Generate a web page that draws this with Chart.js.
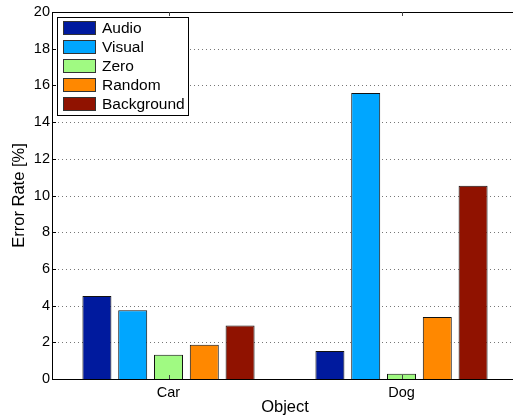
<!DOCTYPE html>
<html>
<head>
<meta charset="utf-8">
<script src="https://cdn.jsdelivr.net/npm/chart.js@4/dist/chart.umd.min.js"></script>
<style>
html,body{margin:0;padding:0;overflow:hidden;background:#fff;}
#wrap{width:513px;height:420px;overflow:hidden;position:relative;}
#c{position:absolute;left:0;top:0;}
</style>
</head>
<body>
<div id="wrap"><canvas id="c" width="518" height="420"></canvas></div>
<script>
const categories = ["Car", "Dog"];
const seriesNames = ["Audio", "Visual", "Zero", "Random", "Background"];
const audio = [4.52, 1.53];
const visual = [3.74, 15.58];
const zero = [1.32, 0.29];
const random = [1.87, 3.38];
const background = [2.92, 10.53];
const yTicks = [0, 2, 4, 6, 8, 10, 12, 14, 16, 18, 20];
const seriesColors = ["#001a9e", "#00a6ff", "#a0fa82", "#ff8800", "#901200"];

const FONT = "'Liberation Sans', Arial, Helvetica, sans-serif";
const seriesValues = [audio, visual, zero, random, background];

const dotGrid = {
  id: 'dotGrid',
  beforeDatasetsDraw(chart) {
    const ctx = chart.ctx;
    const a = chart.chartArea;
    const ys = chart.scales.y;
    ctx.save();
    ctx.strokeStyle = '#777';
    ctx.lineWidth = 1;
    ctx.setLineDash([1, 3]);
    yTicks.forEach(v => {
      if (v === yTicks[0] || v === yTicks[yTicks.length - 1]) return;
      const y = Math.round(ys.getPixelForValue(v)) + 0.5;
      ctx.beginPath();
      ctx.moveTo(a.left + 2, y);
      ctx.lineTo(a.right, y);
      ctx.stroke();
    });
    ctx.restore();
  }
};

const frame = {
  id: 'frame',
  afterDraw(chart) {
    const ctx = chart.ctx;
    const a = chart.chartArea;
    const xs = chart.scales.x, ys = chart.scales.y;
    ctx.save();
    ctx.strokeStyle = '#000';
    ctx.lineWidth = 1;
    ctx.beginPath();
    ctx.moveTo(a.left, Math.round(a.top) + 0.5);
    ctx.lineTo(a.right, Math.round(a.top) + 0.5);
    ctx.moveTo(a.left, Math.round(a.bottom) + 0.5);
    ctx.lineTo(a.right, Math.round(a.bottom) + 0.5);
    ctx.stroke();
    ctx.strokeStyle = '#444';
    categories.forEach((c, i) => {
      const x = Math.round(xs.getPixelForTick(i)) + 0.5;
      ctx.beginPath();
      ctx.moveTo(x, a.top); ctx.lineTo(x, a.top + 4);
      ctx.moveTo(x, a.bottom); ctx.lineTo(x, a.bottom - 4);
      ctx.stroke();
    });
    ctx.strokeStyle = '#000';
    yTicks.forEach(v => {
      const y = Math.round(ys.getPixelForValue(v)) + 0.5;
      ctx.beginPath();
      ctx.moveTo(a.left, y); ctx.lineTo(a.left + 4, y);
      ctx.stroke();
    });
    const lx = 57.5, ly = 17.5, lw = 131, lh = 98;
    ctx.fillStyle = '#fff';
    ctx.fillRect(lx, ly, lw, lh);
    ctx.strokeStyle = '#000';
    ctx.strokeRect(lx, ly, lw, lh);
    ctx.font = '15.5px ' + FONT;
    ctx.textBaseline = 'middle';
    ctx.textAlign = 'left';
    chart.data.datasets.forEach((ds, i) => {
      const cy = 27.5 + i * 19;
      ctx.fillStyle = ds.backgroundColor;
      ctx.fillRect(63.5, Math.round(cy - 6.5) + 0.5, 32, 13);
      ctx.strokeStyle = '#333';
      ctx.strokeRect(63.5, Math.round(cy - 6.5) + 0.5, 32, 13);
      ctx.fillStyle = '#000';
      ctx.fillText(ds.label, 102, cy + 1);
    });
    ctx.restore();
  }
};

new Chart(document.getElementById('c'), {
  type: 'bar',
  data: {
    labels: categories,
    datasets: seriesNames.map((n, i) => ({
      label: n,
      data: seriesValues[i],
      backgroundColor: seriesColors[i],
      borderColor: '#111',
      borderWidth: 1,
      categoryPercentage: 0.768,
      barPercentage: 0.81
    }))
  },
  options: {
    responsive: false,
    animation: false,
    layout: { padding: { top: 12, right: 0, left: 0, bottom: 0 } },
    plugins: { legend: { display: false }, tooltip: { enabled: false } },
    scales: {
      x: {
        grid: { display: false, drawTicks: false },
        border: { display: false },
        ticks: { color: '#000', font: { family: FONT, size: 14.5 }, padding: 5 },
        title: { display: true, text: 'Object', color: '#000', font: { family: FONT, size: 16.5 }, padding: { top: 0, bottom: 3 } },
        afterFit(s) { s.height = 41; }
      },
      y: {
        min: 0, max: 20,
        afterBuildTicks(s) { s.ticks = yTicks.map(v => ({ value: v })); },
        grid: { display: false, drawTicks: false },
        border: { display: true, color: '#000', width: 1 },
        ticks: { color: '#000', font: { family: FONT, size: 14.5 }, padding: 2 },
        title: { display: true, text: 'Error Rate [%]', color: '#000', font: { family: FONT, size: 16.5 }, padding: { top: 10, bottom: 0 } },
        afterFit(s) { s.width = 52; }
      }
    }
  },
  plugins: [dotGrid, frame]
});
</script>
</body>
</html>
